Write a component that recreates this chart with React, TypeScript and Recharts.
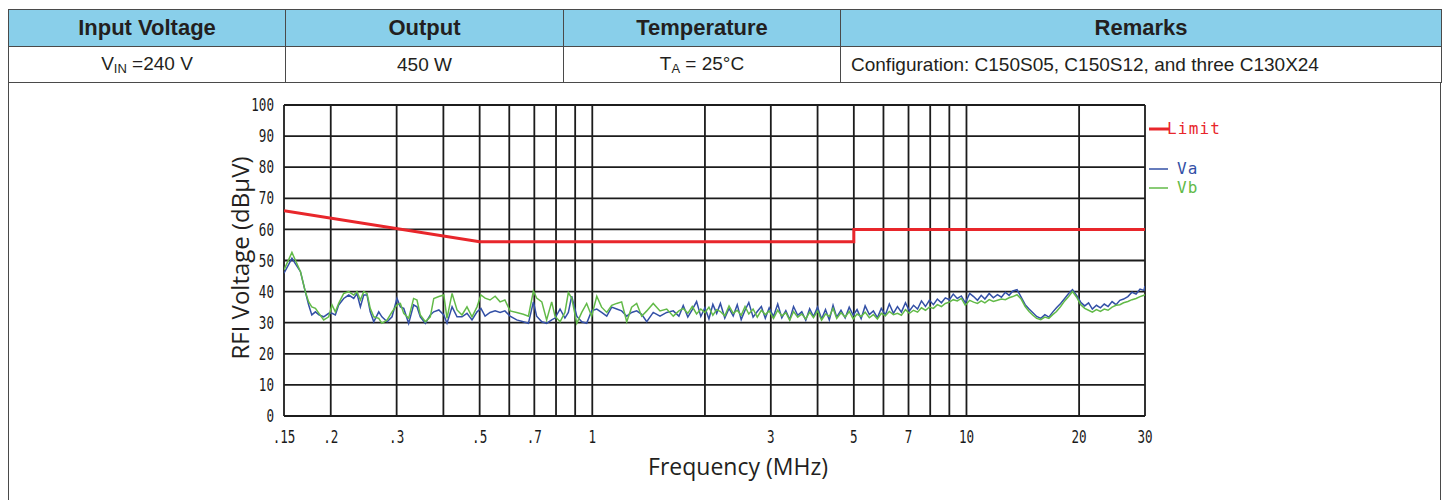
import React from "react";
import { LineChart, Line, XAxis, YAxis, ReferenceLine } from "recharts";

// conducted emission scan, frequency in MHz, level in dBuV
const freqLow = [
  0.15, 0.1575, 0.166, 0.171, 0.1746, 0.178, 0.182, 0.186, 0.1915, 0.1975,
  0.2016, 0.2057, 0.21, 0.2166, 0.2234, 0.2304, 0.235, 0.24, 0.245, 0.25,
  0.255, 0.2606, 0.2687, 0.274, 0.283, 0.2916, 0.3006, 0.307, 0.3134, 0.323,
  0.333, 0.34, 0.347, 0.358, 0.369, 0.377, 0.389, 0.401, 0.409, 0.422,
  0.435, 0.4485, 0.4625, 0.477, 0.492, 0.504, 0.517, 0.533, 0.55, 0.567,
  0.584, 0.603, 0.628, 0.654, 0.675, 0.696, 0.71, 0.733, 0.755, 0.779,
  0.795, 0.82, 0.845, 0.863, 0.881, 0.909, 0.937, 0.966, 0.996, 1.028,
  1.059, 1.093, 1.127, 1.162, 1.198, 1.236, 1.274, 1.314, 1.355, 1.398,
  1.455, 1.517, 1.581, 1.646, 1.704,
];
const vaLow = [
  45.9, 50.7, 46.4, 40.0, 35.7, 32.5, 33.5, 32.5, 31.9, 33.0,
  33.0, 32.5, 35.7, 37.8, 38.9, 37.8, 39.4, 35.1, 38.9, 38.9,
  33.5, 30.3, 33.5, 31.9, 30.3, 31.9, 37.8, 35.1, 34.6, 29.8,
  35.7, 35.1, 31.9, 29.8, 32.5, 33.5, 34.1, 32.5, 29.8, 35.1,
  31.9, 31.9, 33.0, 30.9, 33.5, 34.6, 32.1, 33.3, 33.8, 33.3,
  33.8, 32.1, 30.9, 30.3, 29.8, 36.7, 32.1, 30.3, 29.8, 30.9,
  31.5, 34.4, 31.5, 33.3, 38.5, 32.1, 30.3, 29.8, 33.8, 34.4,
  33.3, 32.1, 35.0, 34.4, 33.8, 32.1, 33.3, 33.8, 32.7, 30.3,
  33.3, 32.1, 33.3, 33.8, 32.1,
];
const vbLow = [
  47.0, 52.6, 46.4, 40.0, 36.7, 35.1, 34.6, 33.0, 30.9, 31.9,
  35.7, 33.5, 36.2, 39.4, 40.0, 38.9, 40.0, 37.3, 40.0, 39.4,
  34.6, 31.9, 31.4, 29.8, 30.9, 33.5, 35.7, 36.2, 33.0, 31.4,
  37.8, 37.3, 32.5, 30.3, 31.9, 37.8, 38.4, 38.9, 31.4, 39.4,
  34.1, 32.5, 35.1, 31.9, 35.1, 38.9, 37.9, 37.3, 38.5, 36.7,
  37.3, 33.8, 33.3, 32.7, 32.1, 40.2, 37.9, 36.7, 30.9, 36.7,
  32.1, 30.3, 33.3, 39.7, 37.9, 29.8, 33.3, 36.2, 32.1, 38.5,
  35.0, 33.3, 35.6, 36.2, 36.7, 30.3, 35.0, 36.2, 32.1, 33.8,
  36.2, 33.8, 34.4, 32.1, 33.8,
];

const freqHigh = [
  1.75, 1.8, 1.85, 1.9, 1.95, 2.0, 2.05, 2.1, 2.15, 2.2,
  2.26, 2.32, 2.38, 2.44, 2.5, 2.56, 2.62, 2.69, 2.76, 2.83,
  2.9, 2.97, 3.05, 3.13, 3.21, 3.29, 3.37, 3.45, 3.54, 3.63,
  3.72, 3.81, 3.9, 4.0, 4.1, 4.2, 4.3, 4.4, 4.5, 4.62,
  4.74, 4.86, 4.98, 5.1, 5.23, 5.36, 5.5, 5.64, 5.78, 5.92,
  6.07, 6.22, 6.38, 6.54, 6.7, 6.87, 7.04, 7.22, 7.4, 7.58,
  7.77, 7.96, 8.16, 8.36, 8.57, 8.78, 9.0, 9.22, 9.45, 9.69,
  9.93, 10.2, 10.45, 10.7, 10.95, 11.2, 11.5, 11.8, 12.1, 12.4,
  12.7, 13.0, 13.3, 13.65, 14.0, 14.35, 14.7, 15.05, 15.4, 15.8,
  16.2, 16.6, 17.0, 17.4, 17.85, 18.3, 18.75, 19.2, 19.7, 20.2,
  20.7, 21.2, 21.7, 22.25, 22.8, 23.35, 23.9, 24.5, 25.1, 25.7,
  26.3, 27.0, 27.7, 28.4, 29.1, 29.8, 30,
];
const vaHigh = [
  35.5, 31.8, 34.2, 36.8, 32.0, 34.8, 31.2, 35.9, 33.0, 36.2,
  31.5, 34.6, 32.2, 35.8, 31.0, 34.0, 36.5, 31.8, 33.6, 35.2,
  31.4, 34.8, 32.0, 36.0, 31.6, 33.9, 31.0, 35.2, 32.4, 33.5,
  30.8, 34.5, 32.0, 35.0, 31.2, 34.2, 30.9, 35.6, 31.8, 34.0,
  31.5, 35.0, 32.4, 34.2, 31.3, 35.4, 32.6, 33.8, 31.6, 34.6,
  32.5, 36.0, 33.0, 35.2, 33.4, 36.4, 33.8, 35.6, 34.4, 37.0,
  35.2, 37.2, 35.8, 37.6, 36.4, 38.0, 37.4, 39.2, 37.8, 38.6,
  36.4, 39.4, 38.4, 37.2, 38.8, 37.6, 39.4, 38.0, 39.0, 38.2,
  39.8, 38.8, 40.2, 40.6, 38.2, 35.8, 34.4, 33.2, 32.0, 31.4,
  32.6, 31.8, 33.4, 34.8, 36.2, 37.8, 39.4, 40.6, 38.8, 36.6,
  35.4, 36.4, 34.4, 35.6, 34.8, 36.0, 35.2, 36.8, 35.8, 37.2,
  37.6, 38.4, 39.8, 39.2, 40.8, 40.4, 41.8,
];
const vbHigh = [
  34.6, 33.0, 35.2, 32.8, 34.4, 33.2, 35.0, 32.4, 34.2, 33.6,
  32.2, 35.4, 33.0, 34.0, 32.4, 35.2, 32.8, 34.4, 31.8, 34.0,
  32.6, 33.8, 31.4, 34.0, 32.2, 33.2, 30.8, 33.6, 31.8, 32.8,
  31.2, 33.4, 31.6, 33.8, 30.8, 32.8, 32.0, 34.6, 31.4, 33.2,
  31.8, 33.6, 31.2, 32.8, 32.0, 33.4, 31.6, 32.6, 31.2, 33.0,
  32.2, 33.6, 32.6, 33.0, 32.4, 34.2, 33.0, 34.0, 33.4, 34.8,
  34.0, 35.0, 34.6, 35.8, 35.2, 36.2, 36.6, 37.4, 37.0, 37.8,
  35.6, 37.2, 36.6, 36.2, 37.0, 36.4, 37.4, 36.8, 37.2, 37.6,
  37.4, 38.0, 38.4, 39.0, 37.6, 35.2, 33.6, 32.4, 31.4, 31.0,
  31.8, 31.4, 32.6, 33.6, 35.2, 37.0, 38.4, 40.0, 38.2, 35.8,
  34.6, 34.0, 33.4, 34.2, 33.6, 34.4, 34.0, 35.0, 35.6, 35.8,
  36.4, 36.8, 37.4, 37.8, 38.4, 38.8, 39.0,
];

const limitFreq = [0.15, 0.5, 5, 5, 30];
const limitLevel = [66, 56, 56, 60, 60];

const xTicks = [0.15, 0.2, 0.3, 0.5, 0.7, 1, 3, 5, 7, 10, 20, 30];
const xGrid = [
  0.15, 0.2, 0.3, 0.4, 0.5, 0.6, 0.7, 0.8, 0.9, 1, 2, 3, 4, 5, 6, 7, 8, 9,
  10, 20, 30,
];
const yTicks = [0, 10, 20, 30, 40, 50, 60, 70, 80, 90, 100];

const freqAll = [...freqLow, ...freqHigh];
const vaAll = [...vaLow, ...vaHigh];
const vbAll = [...vbLow, ...vbHigh];
const vaData = freqAll.map((f, i) => ({ f, v: vaAll[i] }));
const vbData = freqAll.map((f, i) => ({ f, v: vbAll[i] }));
const limitData = limitFreq.map((f, i) => ({ f, v: limitLevel[i] }));

const RED = "#e8262b";
const BLUE = "#3350a6";
const GREEN = "#62ba48";
const GRID = "#1c1c1c";
const TICK_FONT = "'DejaVu Sans Mono', monospace";

const fmtFreq = (v: number) => (v < 1 ? String(v).replace(/^0/, "") : String(v));

const XTick = (props: any) => {
  const { x, y, payload } = props;
  return (
    <g transform={`translate(${x},${y}) scale(0.74,1)`}>
      <text textAnchor="middle" dy="0.75em" fontFamily={TICK_FONT} fontSize={17} fill="#1a1a1a">
        {fmtFreq(payload.value)}
      </text>
    </g>
  );
};

const YTick = (props: any) => {
  const { x, y, payload } = props;
  return (
    <g transform={`translate(${x},${y}) scale(0.74,1)`}>
      <text textAnchor="end" dy="0.36em" fontFamily={TICK_FONT} fontSize={17} fill="#1a1a1a">
        {payload.value}
      </text>
    </g>
  );
};

const headers = ["Input Voltage", "Output", "Temperature", "Remarks"];
const colWidths = [277, 278, 277, 601];
const border = "1.5px solid #4a4a4a";

function Table() {
  const th: React.CSSProperties = {
    background: "#89cfea",
    fontWeight: "bold",
    fontSize: 22,
    color: "#231f20",
    height: 36,
    border,
    padding: 0,
    textAlign: "center",
  };
  const td: React.CSSProperties = {
    fontSize: 19,
    color: "#231f20",
    height: 35,
    border,
    padding: 0,
    textAlign: "center",
  };
  const sub: React.CSSProperties = { fontSize: 13, verticalAlign: "-3px" };
  return (
    <table
      style={{
        borderCollapse: "collapse",
        tableLayout: "fixed",
        width: 1433,
        fontFamily: "'Liberation Sans', Arial, sans-serif",
      }}
    >
      <colgroup>
        {colWidths.map((w, i) => (
          <col key={i} style={{ width: w }} />
        ))}
      </colgroup>
      <thead>
        <tr>
          {headers.map((h) => (
            <th key={h} style={th}>
              {h}
            </th>
          ))}
        </tr>
      </thead>
      <tbody>
        <tr>
          <td style={td}>
            V<span style={sub}>IN</span> =240 V
          </td>
          <td style={td}>450 W</td>
          <td style={td}>
            T<span style={sub}>A</span> = 25°C
          </td>
          <td style={{ ...td, textAlign: "left", paddingLeft: 10 }}>
            Configuration: C150S05, C150S12, and three C130X24
          </td>
        </tr>
      </tbody>
    </table>
  );
}

function Legend() {
  const text = { fontFamily: TICK_FONT, fontSize: 16, letterSpacing: 1.2 } as const;
  return (
    <svg
      width={120}
      height={90}
      style={{ position: "absolute", left: 1138, top: 105 }}
    >
      <line x1={3} x2={23} y1={16} y2={16} stroke={RED} strokeWidth={3} />
      <text x={21} y={21} fill={RED} {...text}>Limit</text>
      <line x1={3} x2={22} y1={56} y2={56} stroke={BLUE} strokeWidth={1.5} />
      <text x={31} y={61} fill={BLUE} {...text}>Va</text>
      <line x1={3} x2={22} y1={75} y2={75} stroke={GREEN} strokeWidth={1.5} />
      <text x={31} y={80} fill={GREEN} {...text}>Vb</text>
    </svg>
  );
}

export default function App() {
  return (
    <div style={{ position: "relative", width: 1434, height: 492 }}>
      <div style={{ position: "absolute", left: 0, top: 1 }}>
        <Table />
      </div>
      <div
        style={{
          position: "absolute",
          left: 0,
          top: 74,
          width: 1431,
          height: 420,
          borderLeft: border,
          borderRight: border,
        }}
      />
      <div style={{ position: "absolute", left: 0, top: 0 }}>
        <LineChart
          width={1434}
          height={492}
          margin={{ top: 97, right: 297, bottom: 54, left: 236 }}
        >
          <XAxis
            dataKey="f"
            type="number"
            scale="log"
            domain={[0.15, 30]}
            allowDataOverflow
            ticks={xTicks}
            tick={<XTick />}
            tickLine={false}
            axisLine={false}
            tickSize={0}
            tickMargin={14}
            height={30}
            interval={0}
          />
          <YAxis
            type="number"
            domain={[0, 100]}
            ticks={yTicks}
            tick={<YTick />}
            tickLine={false}
            axisLine={false}
            tickSize={0}
            tickMargin={10}
            width={40}
            interval={0}
          />
          {xGrid.map((g) => (
            <ReferenceLine key={"x" + g} x={g} stroke={GRID} strokeWidth={1.8} />
          ))}
          {yTicks.map((g) => (
            <ReferenceLine key={"y" + g} y={g} stroke={GRID} strokeWidth={1.8} />
          ))}
          <Line
            data={limitData}
            dataKey="v"
            stroke={RED}
            strokeWidth={3}
            dot={false}
            isAnimationActive={false}
          />
          <Line
            data={vaData}
            dataKey="v"
            stroke={BLUE}
            strokeWidth={1.5}
            dot={false}
            isAnimationActive={false}
          />
          <Line
            data={vbData}
            dataKey="v"
            stroke={GREEN}
            strokeWidth={1.5}
            dot={false}
            isAnimationActive={false}
          />
        </LineChart>
      </div>
      <div
        style={{
          position: "absolute",
          left: 231,
          top: 250,
          transform: "translate(-50%, -50%) rotate(-90deg)",
          fontFamily: "'Open Sans', sans-serif",
          fontSize: 24,
          color: "#231f20",
          whiteSpace: "nowrap",
        }}
      >
        RFI Voltage (dBμV)
      </div>
      <div
        style={{
          position: "absolute",
          left: 730,
          top: 458,
          transform: "translate(-50%, -50%)",
          fontFamily: "'Open Sans', sans-serif",
          fontSize: 23,
          color: "#231f20",
          whiteSpace: "nowrap",
        }}
      >
        Frequency (MHz)
      </div>
      <Legend />
    </div>
  );
}
